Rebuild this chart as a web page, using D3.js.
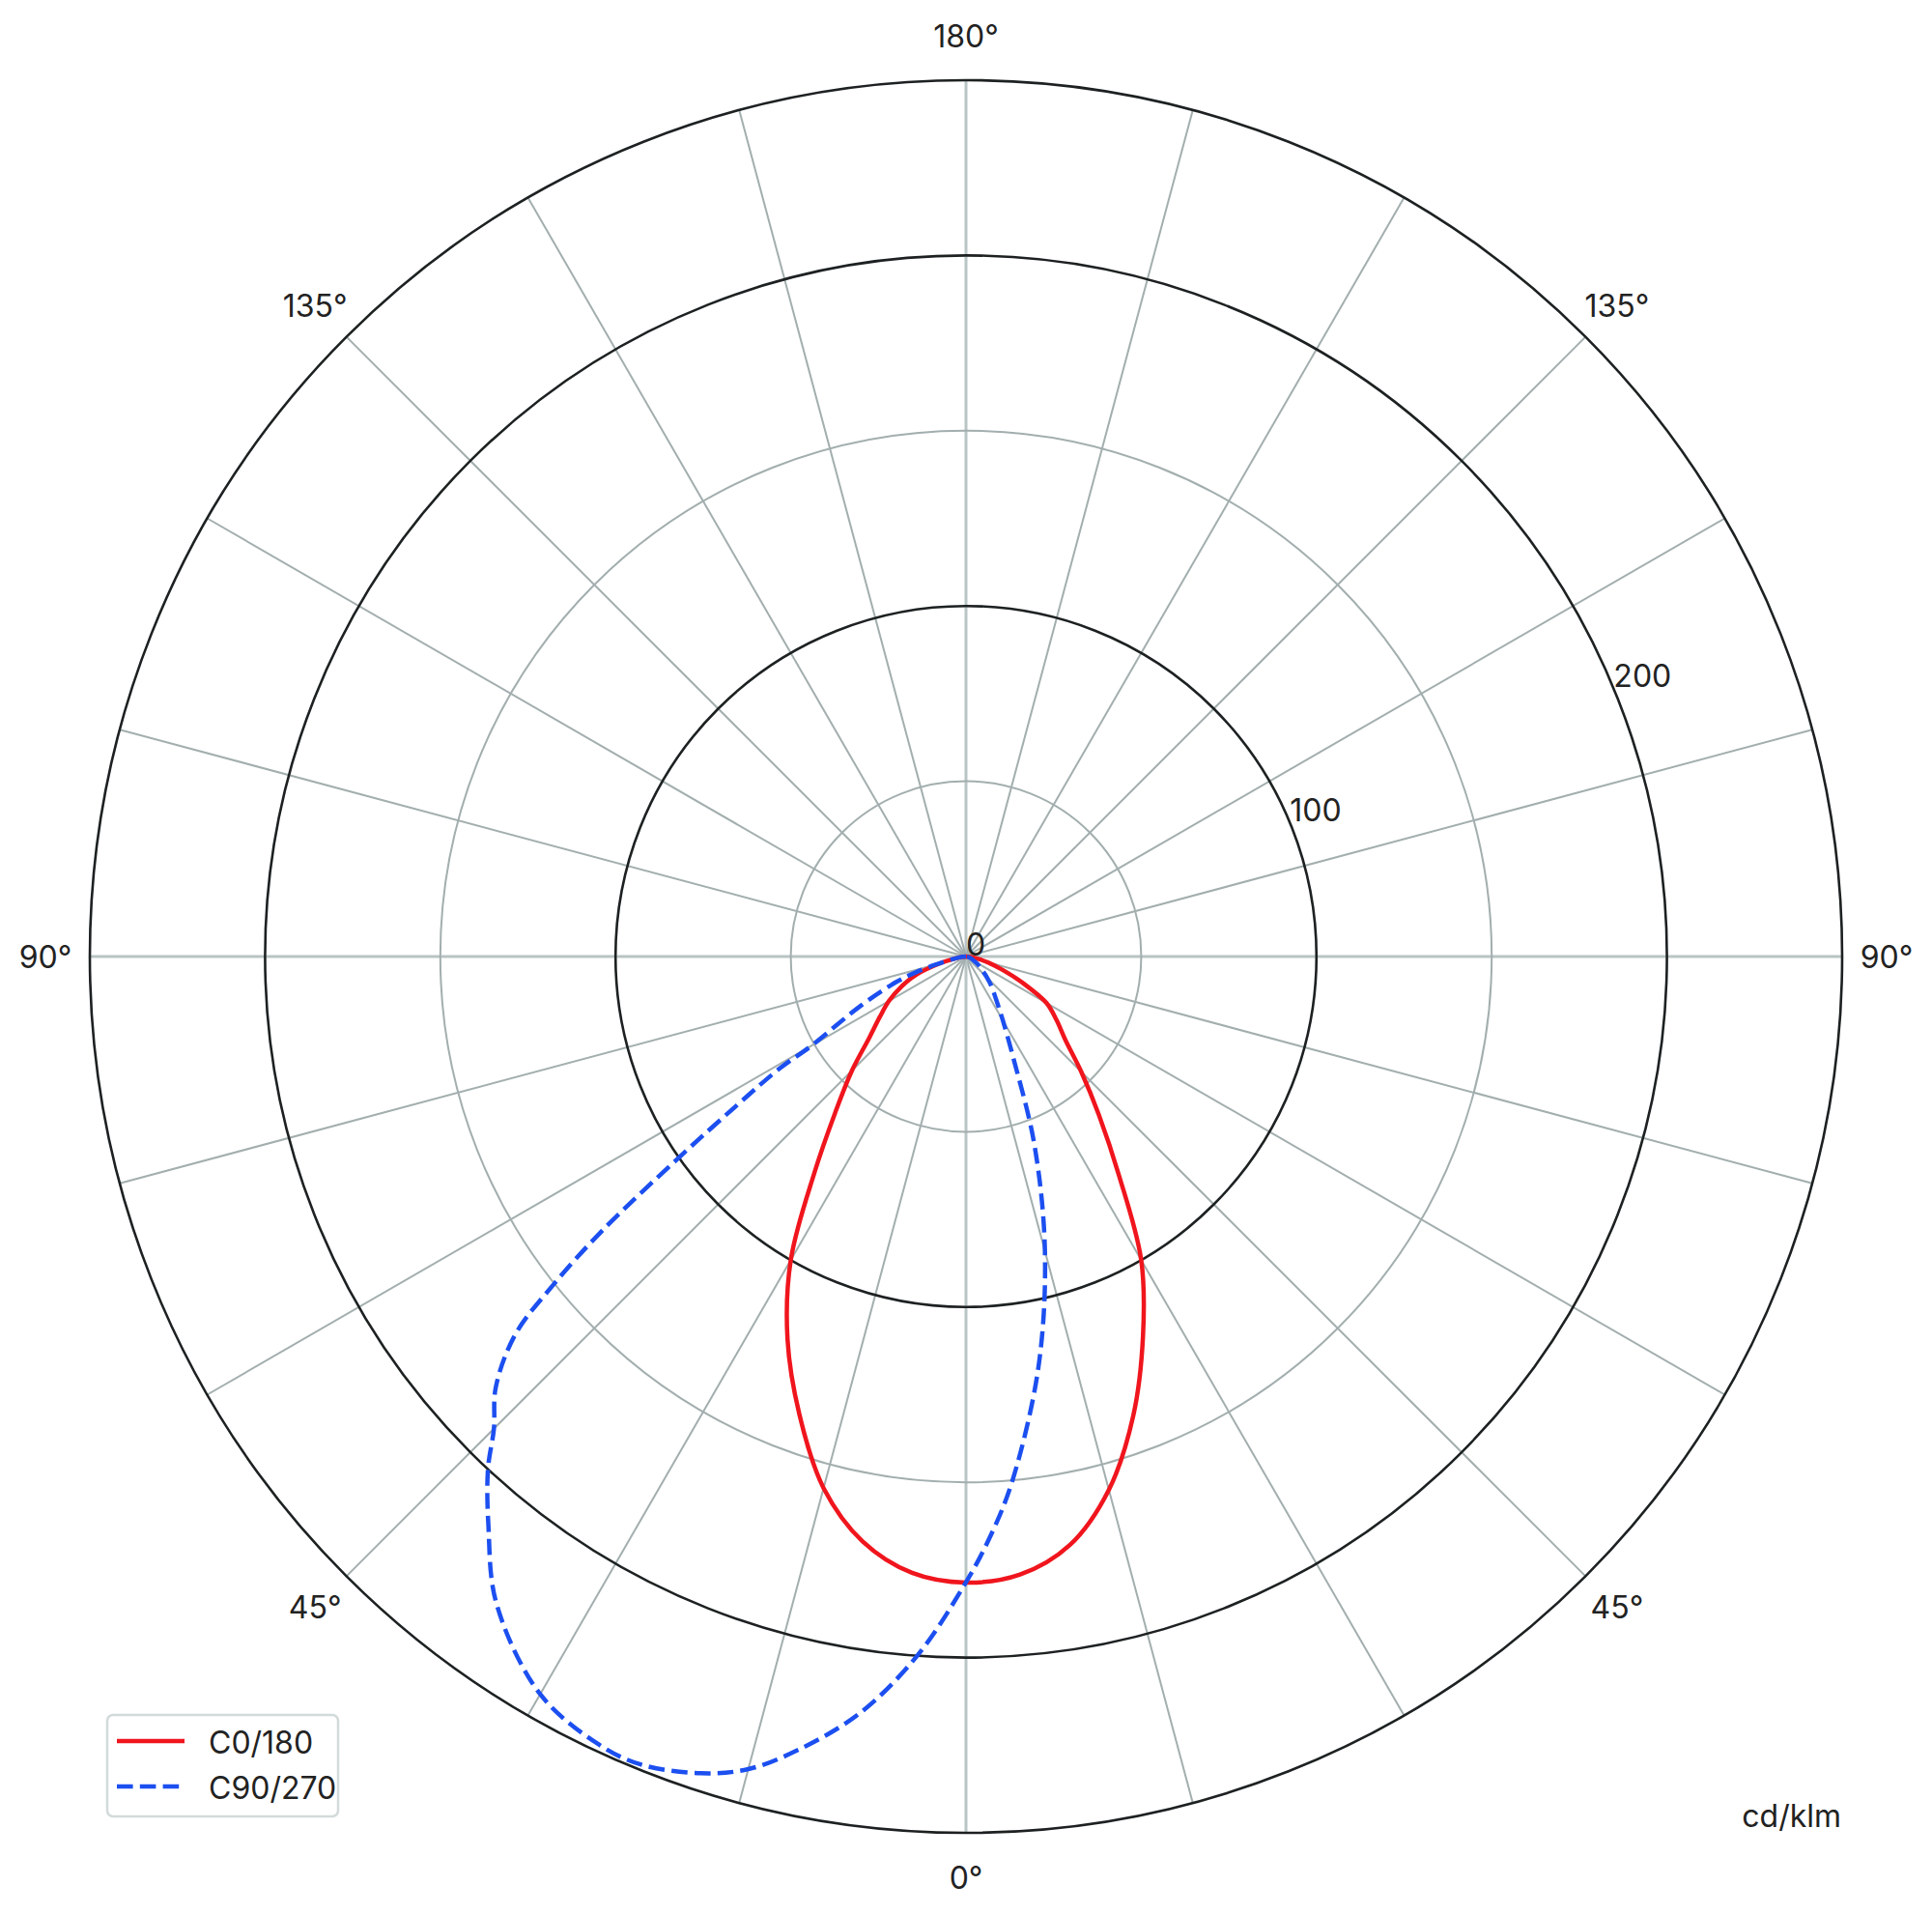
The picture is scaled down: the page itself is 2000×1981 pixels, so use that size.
<!DOCTYPE html>
<html>
<head>
<meta charset="utf-8">
<script src="https://cdn.jsdelivr.net/npm/d3@7"></script>
<style>
  body { margin: 0; background: #fff; }
  text { font-family: 'Inter', 'Liberation Sans', sans-serif; fill: #222; }
</style>
</head>
<body>
<script>
// Luminous intensity in cd/klm, gamma in degrees from nadir
// Right half: C0 and C90, left half: C180 and C270
var c0Gamma   = [0, 5, 10, 15, 20, 25, 30, 35, 40, 45, 50, 55, 60, 65, 70, 75, 80, 85, 90];
var c0Values  = [178.6, 177, 170.5, 157.5, 139.5, 119.5, 100, 76, 59, 46.5, 37, 31.5, 26.5, 18, 11, 6.5, 3, 1, 0];

var c180Gamma  = [0, 5, 10, 15, 20, 25, 30, 35, 40, 45, 50, 55, 60, 65, 70, 75, 80, 85, 90];
var c180Values = [178.6, 176.5, 169.5, 157, 139, 120.5, 100, 75.5, 58, 46, 36, 30, 25.4, 20.4, 15, 8, 3, 1, 0];

var c90Gamma  = [0, 2.5, 5, 10, 15, 20, 25, 30, 35, 40, 45, 50, 55, 60, 70, 80, 90];
var c90Values = [178.5, 165, 150.5, 119, 87, 57, 32, 21, 15, 11.5, 8.5, 6, 4.5, 3, 1.5, 0.5, 0];

var c270Gamma  = [0, 4, 8, 12, 15, 18, 22, 25, 30, 36, 40, 43, 45, 47.5, 50, 51.5, 53, 55, 57, 59, 60, 65, 70, 72.5, 75, 80, 85, 90];
var c270Values = [178.5, 200, 218, 231.5, 240, 245, 248.5, 248, 243, 228, 212, 200, 190.5, 182, 168, 150.5, 130, 100, 78, 62, 51, 33, 21, 15, 9, 3, 1, 0];

// Axis definitions
var ringValues = [50, 100, 150, 200, 250];
var majorRings = [100, 200, 250];
var radialTickLabels = [0, 100, 200];
var spokeStep = 15; /* degrees */
var thetaLabels = ['0°', '45°', '90°', '135°', '180°', '135°', '90°', '45°'];
var unitLabel = 'cd/klm';
var legendNames = ['C0/180', 'C90/270'];

// Chart definitions
var chartWidth = 2000, chartHeight = 1981;
var center = { x: 1000, y: 990 };
var outerRadius = 907;
var colors = { red: '#f0151d', blue: '#1c4ff0', grid: '#a3aeae', axis: '#b9c4c4', ring: '#1d2121' };
var fontSize = 32;

var svg = d3.select('body')
  .append('svg')
  .attr('width', chartWidth)
  .attr('height', chartHeight);

var plot = svg.append('g')
  .attr('transform', 'translate(' + center.x + ',' + center.y + ')');

var r = d3.scaleLinear().domain([0, 250]).range([0, outerRadius]);

// Screen angle for lineRadial: 0 is up, clockwise. Gamma 0 points down.
var rightAngle = function(g) { return Math.PI - g * Math.PI / 180; };
var leftAngle = function(g) { return Math.PI + g * Math.PI / 180; };

// Spokes
var spokes = d3.range(0, 360, spokeStep);
plot.selectAll('line.spoke')
  .data(spokes)
  .enter()
  .append('line')
  .attr('class', 'spoke')
  .attr('x1', 0).attr('y1', 0)
  .attr('x2', d => r(250) * Math.sin(d * Math.PI / 180))
  .attr('y2', d => -r(250) * Math.cos(d * Math.PI / 180))
  .attr('stroke', d => (d % 90 == 0) ? colors.axis : colors.grid)
  .attr('stroke-width', d => (d % 90 == 0) ? 3 : 2);

// Rings
plot.selectAll('circle.ring')
  .data(ringValues)
  .enter()
  .append('circle')
  .attr('class', 'ring')
  .attr('r', d => r(d))
  .attr('fill', 'none')
  .attr('stroke', d => majorRings.includes(d) ? colors.ring : colors.grid)
  .attr('stroke-width', d => majorRings.includes(d) ? 2.6 : 2);

// Curves: left half from 90 down to nadir, then right half back up to 90
var buildPoints = function(leftG, leftV, rightG, rightV) {
  let pts = [];
  for(let i = leftG.length - 1; i >= 0; i--) {
    pts.push([leftAngle(leftG[i]), r(leftV[i])]);
  }
  for(let i = 1; i < rightG.length; i++) {
    pts.push([rightAngle(rightG[i]), r(rightV[i])]);
  }
  return pts;
};

var radialLine = d3.lineRadial()
  .angle(d => d[0])
  .radius(d => d[1])
  .curve(d3.curveCatmullRom.alpha(0.5));

plot.append('path')
  .attr('d', radialLine(buildPoints(c180Gamma, c180Values, c0Gamma, c0Values)))
  .attr('fill', 'none')
  .attr('stroke', colors.red)
  .attr('stroke-width', 4.5)
  .attr('stroke-linejoin', 'round');

plot.append('path')
  .attr('d', radialLine(buildPoints(c270Gamma, c270Values, c90Gamma, c90Values)))
  .attr('fill', 'none')
  .attr('stroke', colors.blue)
  .attr('stroke-width', 4.5)
  .attr('stroke-dasharray', '16.6,7.2');

// Radial tick labels at 22.5 deg above the right horizontal
var labelAngle = 22.5 * Math.PI / 180;
plot.selectAll('text.rlabel')
  .data(radialTickLabels)
  .enter()
  .append('text')
  .attr('class', 'rlabel')
  .attr('x', d => r(d) * Math.cos(labelAngle))
  .attr('y', d => -r(d) * Math.sin(labelAngle) - 1)
  .attr('font-size', fontSize)
  .text(d => d);

// Angle labels every 45 deg, going clockwise from the bottom
var thetaRadius = 953;
plot.selectAll('text.tlabel')
  .data(thetaLabels)
  .enter()
  .append('text')
  .attr('class', 'tlabel')
  .attr('x', (d, i) => -thetaRadius * Math.sin(i * Math.PI / 4))
  .attr('y', (d, i) => thetaRadius * Math.cos(i * Math.PI / 4))
  .attr('text-anchor', 'middle')
  .attr('dominant-baseline', 'central')
  .attr('font-size', fontSize)
  .text(d => d);

// Unit label
svg.append('text')
  .attr('x', 1906)
  .attr('y', 1891)
  .attr('text-anchor', 'end')
  .attr('font-size', fontSize)
  .text(unitLabel);

// Legend
var legend = svg.append('g');
legend.append('rect')
  .attr('x', 111).attr('y', 1775)
  .attr('width', 239).attr('height', 105)
  .attr('rx', 6)
  .attr('fill', '#fff')
  .attr('stroke', '#d3dada')
  .attr('stroke-width', 2.5);

var legendStyles = [
  { color: colors.red, dash: null },
  { color: colors.blue, dash: '16.6,7.2' }
];
legendNames.forEach((name, i) => {
  let y = 1802 + i * 47;
  legend.append('line')
    .attr('x1', 121).attr('x2', 191)
    .attr('y1', y).attr('y2', y)
    .attr('stroke', legendStyles[i].color)
    .attr('stroke-width', 4.5)
    .attr('stroke-dasharray', legendStyles[i].dash);
  legend.append('text')
    .attr('x', 216)
    .attr('y', y + 13)
    .attr('font-size', fontSize)
    .text(name);
});
</script>
</body>
</html>
